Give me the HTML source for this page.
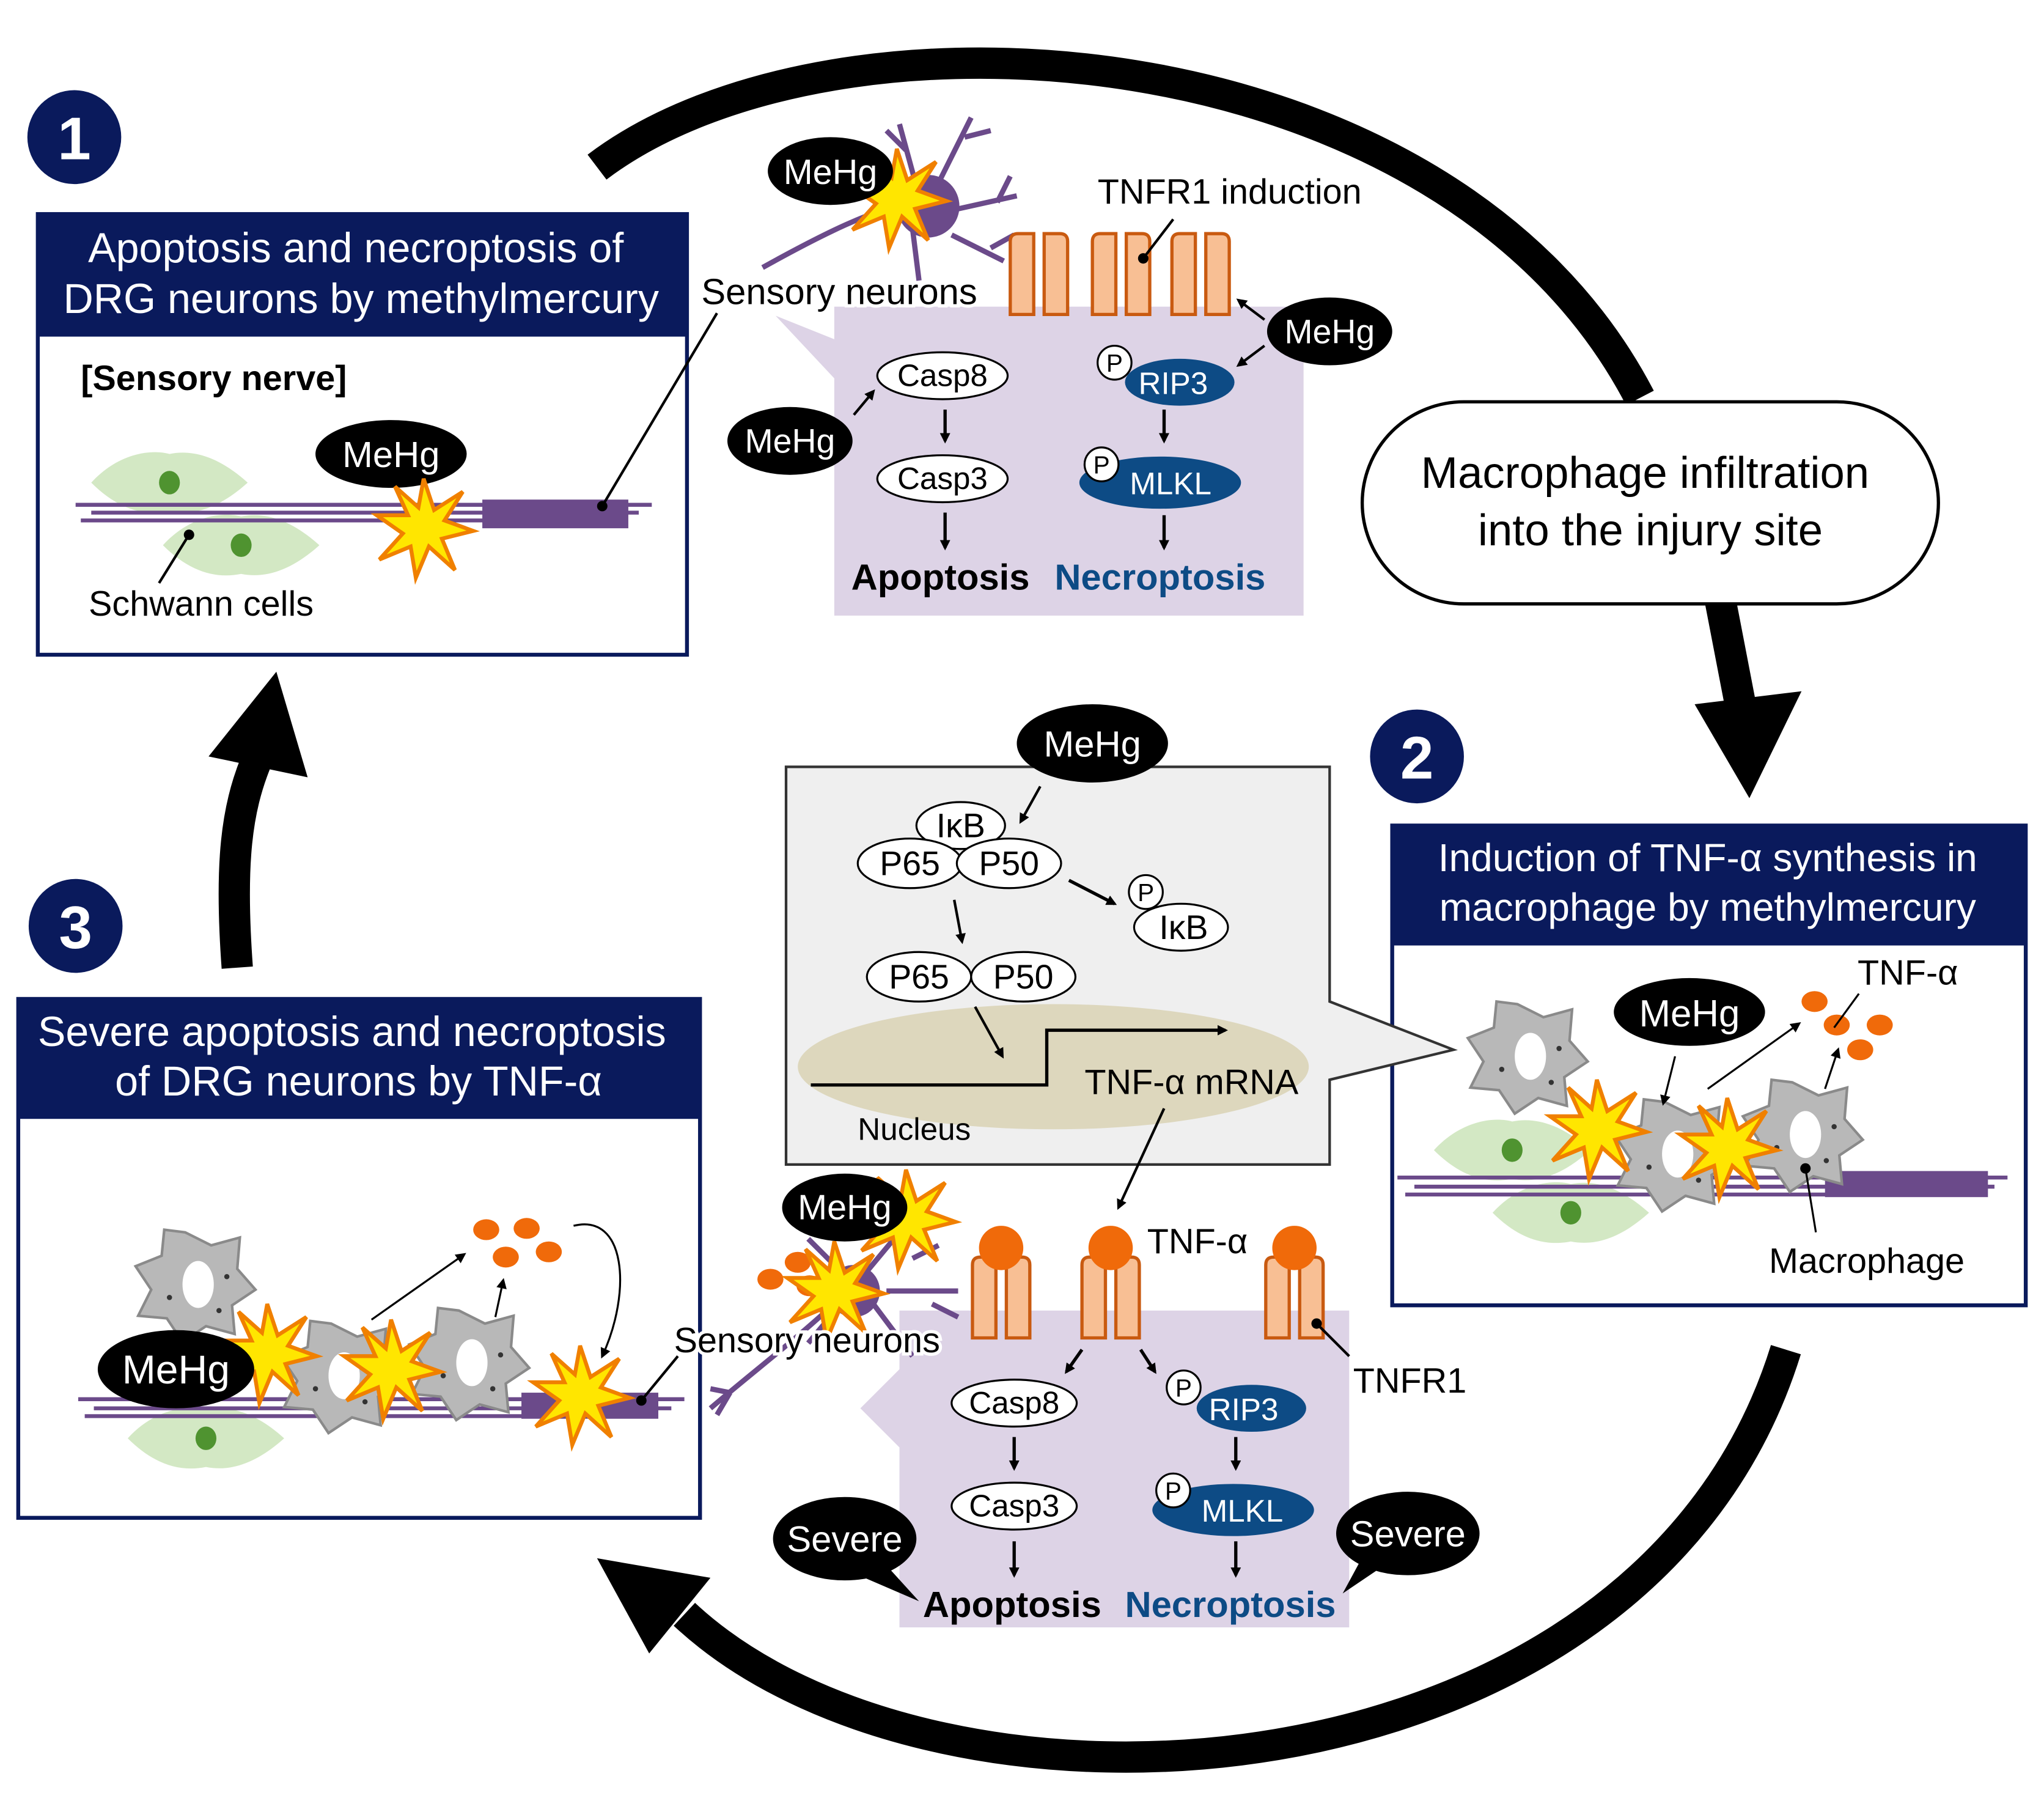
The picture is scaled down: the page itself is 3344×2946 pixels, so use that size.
<!DOCTYPE html>
<html><head><meta charset="utf-8"><style>
html,body{margin:0;padding:0;background:#fff}
svg{display:block}
text{font-family:"Liberation Sans",Arial,sans-serif}
</style></head><body>
<svg width="3344" height="2946" viewBox="0 0 1568 1381" xmlns="http://www.w3.org/2000/svg">
<defs>
<g id="star"><polygon points="0,-38 8,-14 30,-28 16,-6 38,2 14,8 24,32 4,14 -6,38 -10,14 -34,24 -16,4 -36,-10 -12,-10 -22,-32 -4,-16" fill="#ffe600" stroke="#f08000" stroke-width="3"/></g>
<g id="rec"><path d="M-22,-30 q0,-6 6,-6 h12 v62 h-18z M22,-30 q0,-6 -6,-6 h-12 v62 h18z" fill="#f8bf94" stroke="#c95a10" stroke-width="2.5"/></g>
<g id="mac"><polygon points="-8,-40 12,-30 34,-36 32,-12 46,4 28,16 30,38 8,32 -10,44 -22,26 -44,24 -34,4 -46,-14 -26,-22 -24,-42" fill="#b8b8b8" stroke="#8a8a8a" stroke-width="2"/><ellipse cx="2" cy="0" rx="12" ry="18" fill="#fff"/><circle cx="-20" cy="10" r="2" fill="#333"/><circle cx="24" cy="-6" r="2" fill="#333"/><circle cx="18" cy="20" r="2" fill="#333"/></g>
<g id="schw"><path d="M-60,0 C-40,-22 -15,-26 0,-22 C20,-26 40,-18 60,0 C40,18 20,26 0,22 C-20,26 -40,20 -60,0z" fill="#d3e8c4"/><ellipse cx="0" cy="0" rx="8" ry="9" fill="#4f9330"/></g>
<marker id="ah" markerWidth="8" markerHeight="8" refX="6" refY="4" orient="auto" markerUnits="userSpaceOnUse"><path d="M0,0 L8,4 L0,8z" fill="#000"/></marker>
</defs>

<!-- big cycle arrows -->
<path d="M458,128 C640,-10 1110,20 1258,305" fill="none" stroke="#000" stroke-width="24"/>
<path d="M1320,462 L1336,545" stroke="#000" stroke-width="24"/>
<polygon points="1300,540 1382,530 1342,612" fill="#000"/>
<path d="M1370,1035 C1260,1390 720,1420 525,1238" fill="none" stroke="#000" stroke-width="24"/>
<polygon points="458,1195 545,1210 498,1268" fill="#000"/>
<path d="M182,742 C176,660 182,620 196,585" fill="none" stroke="#000" stroke-width="24"/>
<polygon points="160,580 236,596 212,515" fill="#000"/>

<!-- badges -->
<g fill="#0a1a5c"><circle cx="57" cy="105" r="36"/><circle cx="1087" cy="580" r="36"/><circle cx="58" cy="710" r="36"/></g>
<g fill="#fff" font-size="46" font-weight="bold" text-anchor="middle"><text x="57" y="122">1</text><text x="1087" y="597">2</text><text x="58" y="727">3</text></g>

<!-- Box 1 -->
<rect x="29" y="164" width="498" height="338" fill="#fff" stroke="#0a1a5c" stroke-width="3"/>
<rect x="29" y="164" width="498" height="94" fill="#0a1a5c"/>
<g fill="#fff" font-size="32" text-anchor="middle"><text x="273" y="201">Apoptosis and necroptosis of</text><text x="277" y="240">DRG neurons by methylmercury</text></g>
<text x="62" y="299" font-size="27" font-weight="bold">[Sensory nerve]</text>
<use href="#schw" x="130" y="370"/><use href="#schw" x="185" y="418"/>
<g stroke="#6b4a8a" stroke-width="3"><line x1="58" y1="387" x2="500" y2="387"/><line x1="70" y1="393" x2="490" y2="393"/><line x1="62" y1="399" x2="480" y2="399"/></g>
<rect x="370" y="383" width="112" height="22" fill="#6b4a8a"/>
<ellipse cx="300" cy="348" rx="58" ry="26" fill="#000"/><text x="300" y="358" fill="#fff" font-size="28" text-anchor="middle">MeHg</text>
<use href="#star" x="325" y="405"/>
<line x1="145" y1="410" x2="122" y2="447" stroke="#000" stroke-width="2"/><circle cx="145" cy="410" r="4"/>
<text x="68" y="472" font-size="27">Schwann cells</text>
<line x1="462" y1="388" x2="550" y2="240" stroke="#000" stroke-width="2"/><circle cx="462" cy="388" r="4"/>

<!-- top purple panel -->
<path d="M640,235 H1000 V472 H640 V290 L595,242 L640,260z" fill="#ddd3e6"/>
<g fill="none" stroke="#6b4a8a" stroke-width="4"><path d="M585,205 C630,180 670,160 700,155"/><path d="M705,150 L690,95 M720,140 L745,90 M735,160 L780,150 M730,180 L770,200 M700,175 L705,215 M695,115 L680,100 M740,105 L760,100 M765,155 L775,135 M760,190 L778,180"/></g>
<circle cx="712" cy="158" r="24" fill="#6b4a8a"/>
<use href="#star" x="688" y="152"/>
<ellipse cx="637" cy="131" rx="48" ry="26" fill="#000"/><text x="637" y="141" fill="#fff" font-size="27" text-anchor="middle">MeHg</text>
<text x="538" y="233" font-size="28" stroke="#fff" stroke-width="5" paint-order="stroke">Sensory neurons</text>
<use href="#rec" x="797" y="215"/><use href="#rec" x="860" y="215"/><use href="#rec" x="921" y="215"/>
<text x="842" y="156" font-size="27">TNFR1 induction</text>
<line x1="900" y1="168" x2="877" y2="198" stroke="#000" stroke-width="2"/><circle cx="877" cy="198" r="4"/>
<ellipse cx="1020" cy="254" rx="48" ry="26" fill="#000"/><text x="1020" y="263" fill="#fff" font-size="26" text-anchor="middle">MeHg</text>
<line x1="970" y1="245" x2="950" y2="230" stroke="#000" stroke-width="2" marker-end="url(#ah)"/>
<line x1="970" y1="265" x2="950" y2="280" stroke="#000" stroke-width="2" marker-end="url(#ah)"/>
<ellipse cx="606" cy="338" rx="48" ry="26" fill="#000"/><text x="606" y="347" fill="#fff" font-size="26" text-anchor="middle">MeHg</text>
<line x1="655" y1="318" x2="670" y2="300" stroke="#000" stroke-width="2" marker-end="url(#ah)"/>
<g stroke="#000" stroke-width="1.5"><ellipse cx="723" cy="288" rx="50" ry="18" fill="#fff"/><ellipse cx="723" cy="367" rx="50" ry="18" fill="#fff"/></g>
<g font-size="24" text-anchor="middle"><text x="723" y="296">Casp8</text><text x="723" y="375">Casp3</text></g>
<ellipse cx="905" cy="293" rx="42" ry="18" fill="#0d4b85"/><ellipse cx="890" cy="370" rx="62" ry="20" fill="#0d4b85"/>
<g stroke="#000" stroke-width="1.5" fill="#fff"><circle cx="855" cy="278" r="13"/><circle cx="845" cy="356" r="13"/></g>
<g font-size="19" text-anchor="middle"><text x="855" y="285">P</text><text x="845" y="363">P</text></g>
<g fill="#fff" font-size="24" text-anchor="middle"><text x="900" y="302">RIP3</text><text x="898" y="379">MLKL</text></g>
<g stroke="#000" stroke-width="2.5" marker-end="url(#ah)"><line x1="725" y1="314" x2="725" y2="338"/><line x1="725" y1="393" x2="725" y2="420"/><line x1="893" y1="314" x2="893" y2="338"/><line x1="893" y1="395" x2="893" y2="420"/></g>
<text x="653" y="452" font-size="28" font-weight="bold">Apoptosis</text>
<text x="809" y="452" font-size="28" font-weight="bold" fill="#0d4b85">Necroptosis</text>

<!-- macrophage infiltration -->
<rect x="1045" y="308" width="442" height="155" rx="78" fill="#fff" stroke="#000" stroke-width="2.5"/>
<g font-size="34" text-anchor="middle"><text x="1262" y="374">Macrophage infiltration</text><text x="1266" y="418">into the injury site</text></g>

<!-- Box 2 -->
<rect x="1068" y="633" width="486" height="368" fill="#fff" stroke="#0a1a5c" stroke-width="3"/>
<rect x="1068" y="633" width="486" height="92" fill="#0a1a5c"/>
<g fill="#fff" font-size="30" text-anchor="middle"><text x="1310" y="668">Induction of TNF-α synthesis in</text><text x="1310" y="706">macrophage by methylmercury</text></g>
<use href="#schw" x="1160" y="882"/><use href="#schw" x="1205" y="930"/>
<g stroke="#6b4a8a" stroke-width="3"><line x1="1072" y1="903" x2="1540" y2="903"/><line x1="1085" y1="910" x2="1530" y2="910"/><line x1="1078" y1="916" x2="1520" y2="916"/></g>
<rect x="1400" y="898" width="125" height="20" fill="#6b4a8a"/>
<use href="#mac" x="1172" y="810"/><use href="#mac" x="1285" y="885"/><use href="#mac" x="1383" y="870"/>
<use href="#star" x="1225" y="866"/><use href="#star" x="1325" y="880"/>
<ellipse cx="1296" cy="776" rx="58" ry="26" fill="#000"/><text x="1296" y="787" fill="#fff" font-size="29" text-anchor="middle">MeHg</text>
<line x1="1285" y1="810" x2="1276" y2="846" stroke="#000" stroke-width="1.5" marker-end="url(#ah)"/>
<line x1="1310" y1="835" x2="1380" y2="785" stroke="#000" stroke-width="1.5" marker-end="url(#ah)"/>
<line x1="1400" y1="835" x2="1410" y2="805" stroke="#000" stroke-width="1.5" marker-end="url(#ah)"/>
<g fill="#f06a0a"><ellipse cx="1392" cy="768" rx="10" ry="8"/><ellipse cx="1409" cy="786" rx="10" ry="8"/><ellipse cx="1442" cy="786" rx="10" ry="8"/><ellipse cx="1427" cy="805" rx="10" ry="8"/></g>
<text x="1425" y="755" font-size="27">TNF-α</text>
<line x1="1407" y1="788" x2="1426" y2="762" stroke="#000" stroke-width="1.5"/>
<text x="1357" y="976" font-size="27">Macrophage</text>
<line x1="1385" y1="896" x2="1393" y2="945" stroke="#000" stroke-width="1.5"/><circle cx="1385" cy="896" r="4"/>

<!-- gray NF-kB box -->
<path d="M603,588 H1020 V768 L1115,805 L1020,828 V893 H603z" fill="#efefef" stroke="#333" stroke-width="2"/>
<ellipse cx="808" cy="818" rx="196" ry="48" fill="#ddd7bd"/>
<ellipse cx="838" cy="570" rx="58" ry="30" fill="#000"/><text x="838" y="580" fill="#fff" font-size="28" text-anchor="middle">MeHg</text>
<line x1="798" y1="603" x2="783" y2="630" stroke="#000" stroke-width="2" marker-end="url(#ah)"/>
<g stroke="#000" stroke-width="1.5" fill="#fff">
<ellipse cx="737" cy="633" rx="34" ry="18"/><ellipse cx="698" cy="662" rx="40" ry="19"/><ellipse cx="774" cy="662" rx="40" ry="19"/>
<ellipse cx="705" cy="749" rx="40" ry="19"/><ellipse cx="785" cy="749" rx="40" ry="19"/>
<ellipse cx="906" cy="711" rx="36" ry="18"/><circle cx="879" cy="684" r="13"/></g>
<g font-size="26" text-anchor="middle"><text x="737" y="642">IκB</text><text x="698" y="671">P65</text><text x="774" y="671">P50</text><text x="705" y="758">P65</text><text x="785" y="758">P50</text><text x="908" y="720">IκB</text></g>
<text x="879" y="691" font-size="19" text-anchor="middle">P</text>
<line x1="820" y1="675" x2="855" y2="693" stroke="#000" stroke-width="2.5" marker-end="url(#ah)"/>
<line x1="732" y1="690" x2="738" y2="722" stroke="#000" stroke-width="2" marker-end="url(#ah)"/>
<line x1="748" y1="772" x2="769" y2="810" stroke="#000" stroke-width="2" marker-end="url(#ah)"/>
<path d="M622,832 H803 V790 H940" fill="none" stroke="#000" stroke-width="2.5" marker-end="url(#ah)"/>
<text x="832" y="839" font-size="27">TNF-α mRNA</text>
<text x="658" y="874" font-size="24">Nucleus</text>
<line x1="893" y1="850" x2="858" y2="926" stroke="#000" stroke-width="2" marker-end="url(#ah)"/>

<!-- Box 3 -->
<rect x="14" y="766" width="523" height="398" fill="#fff" stroke="#0a1a5c" stroke-width="3"/>
<rect x="14" y="766" width="523" height="92" fill="#0a1a5c"/>
<g fill="#fff" font-size="32" text-anchor="middle"><text x="270" y="802">Severe apoptosis and necroptosis</text><text x="275" y="840">of DRG neurons by TNF-α</text></g>
<use href="#schw" x="158" y="1103"/>
<g stroke="#6b4a8a" stroke-width="3"><line x1="60" y1="1073" x2="525" y2="1073"/><line x1="72" y1="1080" x2="515" y2="1080"/><line x1="65" y1="1086" x2="505" y2="1086"/></g>
<rect x="400" y="1068" width="105" height="20" fill="#6b4a8a"/>
<use href="#mac" x="150" y="985"/><use href="#mac" x="262" y="1055"/><use href="#mac" x="360" y="1045"/>
<use href="#star" x="205" y="1038"/><use href="#star" x="300" y="1050"/><use href="#star" x="445" y="1070"/>
<ellipse cx="135" cy="1050" rx="60" ry="30" fill="#000"/><text x="135" y="1061" fill="#fff" font-size="31" text-anchor="middle">MeHg</text>
<line x1="285" y1="1012" x2="356" y2="962" stroke="#000" stroke-width="1.5" marker-end="url(#ah)"/>
<line x1="380" y1="1010" x2="386" y2="982" stroke="#000" stroke-width="1.5" marker-end="url(#ah)"/>
<g fill="#f06a0a"><ellipse cx="373" cy="943" rx="10" ry="8"/><ellipse cx="404" cy="942" rx="10" ry="8"/><ellipse cx="388" cy="964" rx="10" ry="8"/><ellipse cx="421" cy="960" rx="10" ry="8"/></g>
<path d="M440,940 C480,930 485,990 462,1040" fill="none" stroke="#000" stroke-width="1.5" marker-end="url(#ah)"/>
<line x1="492" y1="1074" x2="520" y2="1040" stroke="#000" stroke-width="2"/><circle cx="492" cy="1074" r="4"/>

<!-- bottom purple panel -->
<path d="M690,1005 H1035 V1248 H690 V1110 L660,1080 L690,1050z" fill="#ddd3e6"/>
<g fill="none" stroke="#6b4a8a" stroke-width="4"><path d="M545,1080 C580,1050 620,1020 650,990"/><path d="M650,980 L620,950 M665,975 L690,945 M680,990 L735,990 M670,1000 L700,1040 M645,1000 L620,1030 M560,1068 L545,1065 M560,1068 L550,1085 M700,965 L720,955 M715,1000 L735,1010"/></g>
<circle cx="655" cy="990" r="20" fill="#6b4a8a"/>
<g fill="#f06a0a"><ellipse cx="591" cy="981" rx="10" ry="8"/><ellipse cx="612" cy="968" rx="10" ry="8"/><ellipse cx="621" cy="986" rx="10" ry="8"/></g>
<use href="#star" x="640" y="990"/><use href="#star" x="695" y="935"/>
<ellipse cx="648" cy="926" rx="48" ry="26" fill="#000"/><text x="648" y="935" fill="#fff" font-size="27" text-anchor="middle">MeHg</text>
<text x="517" y="1037" font-size="27" stroke="#fff" stroke-width="5" paint-order="stroke">Sensory neurons</text>
<use href="#rec" x="768" y="1000"/><use href="#rec" x="852" y="1000"/><use href="#rec" x="993" y="1000"/>
<g fill="#f06a0a"><circle cx="768" cy="957" r="17"/><circle cx="852" cy="957" r="17"/><circle cx="993" cy="957" r="17"/></g>
<text x="880" y="961" font-size="27">TNF-α</text>
<line x1="1010" y1="1015" x2="1035" y2="1040" stroke="#000" stroke-width="2"/><circle cx="1010" cy="1015" r="4"/>
<text x="1038" y="1068" font-size="27">TNFR1</text>
<line x1="830" y1="1035" x2="818" y2="1052" stroke="#000" stroke-width="2.5" marker-end="url(#ah)"/>
<line x1="875" y1="1035" x2="886" y2="1052" stroke="#000" stroke-width="2.5" marker-end="url(#ah)"/>
<g stroke="#000" stroke-width="1.5"><ellipse cx="778" cy="1076" rx="48" ry="18" fill="#fff"/><ellipse cx="778" cy="1155" rx="48" ry="18" fill="#fff"/></g>
<g font-size="24" text-anchor="middle"><text x="778" y="1084">Casp8</text><text x="778" y="1163">Casp3</text></g>
<ellipse cx="960" cy="1080" rx="42" ry="18" fill="#0d4b85"/><ellipse cx="946" cy="1158" rx="62" ry="20" fill="#0d4b85"/>
<g stroke="#000" stroke-width="1.5" fill="#fff"><circle cx="908" cy="1064" r="13"/><circle cx="900" cy="1143" r="13"/></g>
<g font-size="19" text-anchor="middle"><text x="908" y="1071">P</text><text x="900" y="1150">P</text></g>
<g fill="#fff" font-size="24" text-anchor="middle"><text x="954" y="1089">RIP3</text><text x="953" y="1167">MLKL</text></g>
<g stroke="#000" stroke-width="2.5" marker-end="url(#ah)"><line x1="778" y1="1102" x2="778" y2="1126"/><line x1="778" y1="1182" x2="778" y2="1208"/><line x1="948" y1="1102" x2="948" y2="1126"/><line x1="948" y1="1182" x2="948" y2="1208"/></g>
<text x="708" y="1240" font-size="28" font-weight="bold">Apoptosis</text>
<text x="863" y="1240" font-size="28" font-weight="bold" fill="#0d4b85">Necroptosis</text>
<path d="M640,1200 L705,1228 L675,1195z" fill="#000"/><ellipse cx="648" cy="1180" rx="55" ry="32" fill="#000"/>
<text x="648" y="1190" fill="#fff" font-size="28" text-anchor="middle">Severe</text>
<path d="M1070,1195 L1030,1222 L1050,1185z" fill="#000"/><ellipse cx="1080" cy="1176" rx="55" ry="32" fill="#000"/>
<text x="1080" y="1186" fill="#fff" font-size="28" text-anchor="middle">Severe</text>
</svg>
</body></html>
